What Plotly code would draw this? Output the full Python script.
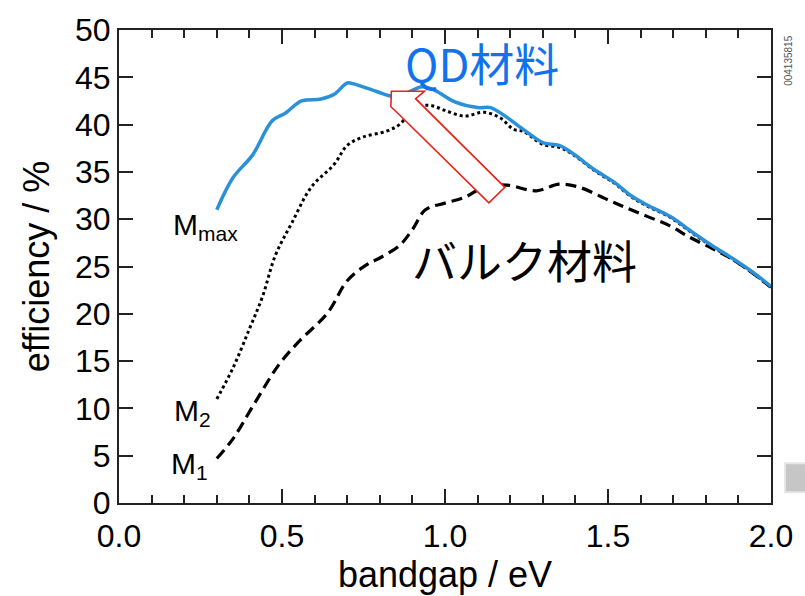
import plotly.graph_objects as go

# Detailed-balance efficiency limits versus absorber bandgap
bandgap_max = [0.30, 0.35, 0.41, 0.47, 0.51, 0.56, 0.62, 0.66, 0.70, 0.72, 0.79, 0.84, 0.88,
               0.93, 0.97, 1.03, 1.10, 1.14, 1.18, 1.24, 1.30, 1.35, 1.39, 1.46, 1.52, 1.57,
               1.62, 1.69, 1.76, 1.82, 1.88, 1.94, 2.00]
eff_max = [31.0, 34.4, 36.8, 40.4, 41.2, 42.5, 42.7, 43.2, 44.4, 44.3, 43.5, 43.0, 43.3,
           44.0, 43.6, 42.4, 41.8, 41.8, 41.0, 39.5, 38.1, 37.8, 37.0, 35.2, 33.9, 32.5,
           31.5, 30.3, 28.6, 27.2, 25.9, 24.5, 22.9]

bandgap_m2 = [0.30, 0.35, 0.40, 0.44, 0.48, 0.53, 0.59, 0.66, 0.70, 0.75, 0.82, 0.86, 0.90,
              0.93, 0.96, 1.00, 1.06, 1.12, 1.17, 1.21, 1.24, 1.30, 1.35, 1.39, 1.46, 1.52,
              1.57, 1.62, 1.69, 1.76, 1.82, 1.88, 1.94, 2.00]
eff_m2 = [11.0, 14.3, 18.4, 21.8, 26.2, 29.6, 33.4, 35.8, 37.8, 38.7, 39.3, 40.0, 41.5,
          42.0, 42.0, 41.5, 40.9, 41.3, 40.7, 39.5, 39.3, 37.9, 37.6, 36.9, 35.1, 33.8,
          32.4, 31.4, 30.2, 28.5, 27.1, 25.8, 24.4, 22.8]

bandgap_m1 = [0.30, 0.35, 0.41, 0.49, 0.55, 0.64, 0.70, 0.76, 0.80, 0.86, 0.90, 0.94, 1.00,
              1.06, 1.12, 1.19, 1.28, 1.35, 1.41, 1.49, 1.55, 1.62, 1.69, 1.75, 1.82, 1.88,
              1.94, 2.00]
eff_m1 = [4.7, 6.8, 10.2, 14.6, 17.0, 20.1, 23.5, 25.2, 25.9, 27.2, 28.9, 31.0, 31.7,
          32.3, 33.4, 33.6, 33.0, 33.7, 33.4, 32.2, 31.3, 30.3, 29.3, 28.1, 26.9, 25.8,
          24.4, 22.8]

x_ticks = [0.0, 0.5, 1.0, 1.5, 2.0]
x_tick_text = ["0.0", "0.5", "1.0", "1.5", "2.0"]
y_ticks = list(range(0, 51, 5))

FONT = "Liberation Sans, Arial, Helvetica, sans-serif"
CJK = "Noto Sans CJK JP, sans-serif"

fig = go.Figure()
fig.add_trace(go.Scatter(x=bandgap_m1, y=eff_m1, mode="lines",
                         line=dict(color="black", width=3.2, dash="11px,6px"),
                         line_shape="spline", showlegend=False))
fig.add_trace(go.Scatter(x=bandgap_m2, y=eff_m2, mode="lines",
                         line=dict(color="black", width=3, dash="dot"),
                         line_shape="spline", showlegend=False))
fig.add_trace(go.Scatter(x=bandgap_max, y=eff_max, mode="lines",
                         line=dict(color="#2a90da", width=3.5),
                         line_shape="spline", showlegend=False))

# Hollow arrow pointing from the bulk curve up to the QD curve
arrow = [(0.8355, 43.53), (0.9373, 43.53), (0.9098, 42.74), (1.1835, 33.37),
         (1.1346, 31.73), (0.8593, 41.07), (0.8339, 41.89)]
path = "M " + " L ".join(f"{x},{y}" for x, y in arrow) + " Z"
fig.add_shape(type="path", path=path, xref="x", yref="y",
              line=dict(color="#e8231c", width=1.6), fillcolor="white")

# Side tab at the lower right edge
fig.add_shape(type="rect", xref="paper", yref="paper", x0=1.0214, x1=1.06, y0=0.0225, y1=0.0838,
              line=dict(color="#e6e6e6", width=2), fillcolor="#c6c6c6")

annotations = [
    dict(x=0.372, y=29.2, text="M<sub>max</sub>", xanchor="right", yanchor="middle",
         font=dict(family=FONT, size=30, color="black")),
    dict(x=0.288, y=9.6, text="M<sub>2</sub>", xanchor="right", yanchor="middle",
         font=dict(family=FONT, size=30, color="black")),
    dict(x=0.280, y=4.0, text="M<sub>1</sub>", xanchor="right", yanchor="middle",
         font=dict(family=FONT, size=30, color="black")),
    dict(x=1.115, y=46.6, text="QD材料", xanchor="center", yanchor="middle",
         font=dict(family=CJK, size=45, color="#1272ee")),
    dict(x=1.245, y=25.7, text="バルク材料", xanchor="center", yanchor="middle",
         font=dict(family=CJK, size=45, color="black")),
]
for a in annotations:
    fig.add_annotation(xref="x", yref="y", showarrow=False, **a)

fig.add_annotation(xref="paper", yref="paper", x=1.0275, y=0.9346, text="004135815",
                   textangle=-90, showarrow=False, xanchor="center", yanchor="middle",
                   font=dict(family=FONT, size=10, color="#555555"))

fig.update_xaxes(range=[0, 2], tickvals=x_ticks, ticktext=x_tick_text,
                 ticks="inside", ticklen=14, tickwidth=1.5, tickcolor="#222",
                 minor=dict(dtick=0.1, ticks="inside", ticklen=8, tickwidth=1.5, tickcolor="#222"),
                 showline=True, linewidth=2, linecolor="#222", mirror="allticks",
                 showgrid=False, zeroline=False, ticklabelstandoff=4,
                 tickfont=dict(family=FONT, size=32, color="black"),
                 title=dict(text="bandgap / eV", font=dict(family=FONT, size=36, color="black"),
                            standoff=4))
fig.update_yaxes(range=[0, 50], tickvals=y_ticks,
                 ticks="inside", ticklen=14, tickwidth=1.5, tickcolor="#222",
                 showline=True, linewidth=2, linecolor="#222", mirror="allticks",
                 showgrid=False, zeroline=False,
                 tickfont=dict(family=FONT, size=32, color="black"),
                 title=dict(text="efficiency / %", font=dict(family=FONT, size=36, color="black"),
                            standoff=14))

fig.update_layout(width=805, height=596, margin=dict(l=119, r=32, t=24, b=83),
                  plot_bgcolor="white", paper_bgcolor="white")

fig.write_html("out.html")
